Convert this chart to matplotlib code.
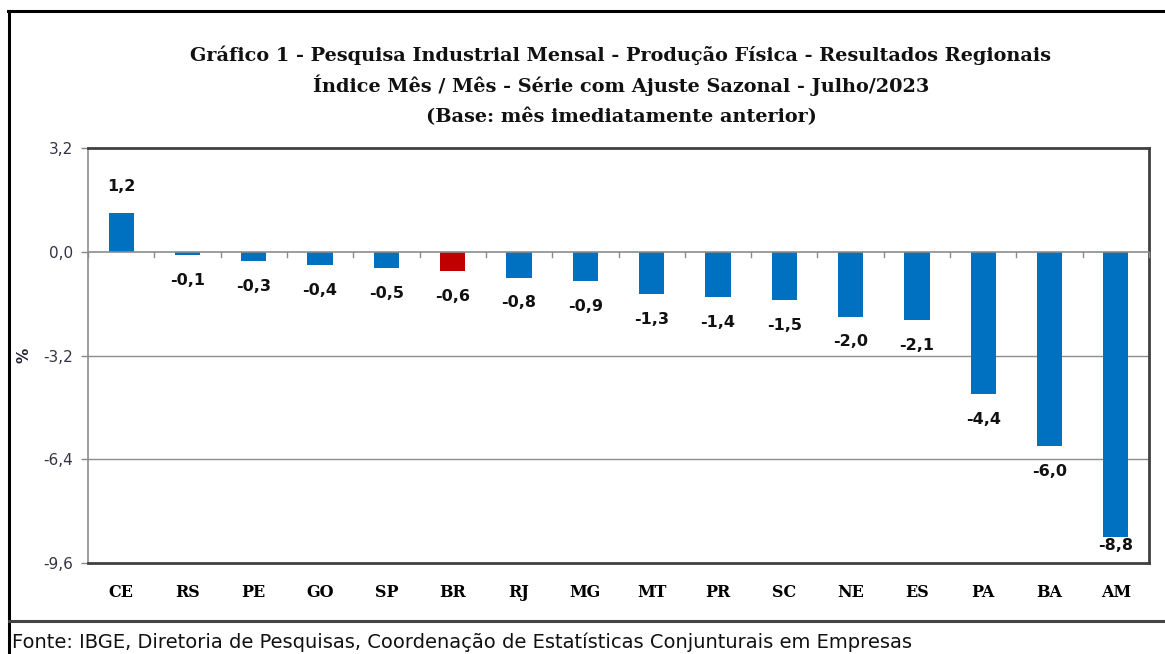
import matplotlib
matplotlib.use("Agg")
import matplotlib.pyplot as plt
from matplotlib.lines import Line2D
import numpy as np

categories = ["CE", "RS", "PE", "GO", "SP", "BR", "RJ", "MG", "MT", "PR", "SC", "NE", "ES", "PA", "BA", "AM"]
values = [1.2, -0.1, -0.3, -0.4, -0.5, -0.6, -0.8, -0.9, -1.3, -1.4, -1.5, -2.0, -2.1, -4.4, -6.0, -8.8]
highlight = "BR"
yticks = [3.2, 0.0, -3.2, -6.4, -9.6]

title_lines = [
    "Gráfico 1 - Pesquisa Industrial Mensal - Produção Física - Resultados Regionais",
    "Índice Mês / Mês - Série com Ajuste Sazonal - Julho/2023",
    "(Base: mês imediatamente anterior)",
]
source = "Fonte: IBGE, Diretoria de Pesquisas, Coordenação de Estatísticas Conjunturais em Empresas"

BLUE = "#0070C0"
RED = "#C00000"

W, H = 1165, 654
fig = plt.figure(figsize=(W / 100, H / 100), dpi=100)
fig.patch.set_facecolor("white")

# outer frame lines
fig.add_artist(Line2D([8 / W, 1.0], [1 - 11 / H, 1 - 11 / H], color="black", lw=2.2, transform=fig.transFigure))
fig.add_artist(Line2D([9 / W, 9 / W], [0, 1 - 11 / H], color="black", lw=2.2, transform=fig.transFigure))
fig.add_artist(Line2D([9 / W, 1.0], [1 - 621 / H, 1 - 621 / H], color="#444444", lw=2.2, transform=fig.transFigure))

ax = fig.add_axes([88 / W, 1 - 563 / H, (1149 - 88) / W, (563 - 148) / H])

x = np.arange(len(categories))
colors = [RED if c == highlight else BLUE for c in categories]
ax.bar(x, values, width=0.38, color=colors, zorder=3)

ax.set_xlim(-0.5, len(categories) - 0.5)
ax.set_ylim(yticks[-1], yticks[0])
ax.set_yticks(yticks)
ax.set_yticklabels([f"{t:.1f}".replace(".", ",") for t in yticks], fontsize=11, color="#333344",
                   family="DejaVu Sans")
ax.tick_params(axis="y", length=5, color="#888888", width=1, pad=6)

# gridlines
for t in yticks[2:-1]:
    ax.axhline(t, color="#8c8c8c", lw=1, zorder=1)

# zero axis with category tick marks
ax.axhline(0, color="#8c8c8c", lw=1.2, zorder=4)
for b in np.arange(len(categories) + 1) - 0.5:
    ax.plot([b, b], [0, -0.17], color="#8c8c8c", lw=1, zorder=4, clip_on=False)

ax.set_xticks(x)
ax.set_xticklabels(categories, fontsize=11.5, fontweight="bold", family="DejaVu Serif", color="black")
ax.tick_params(axis="x", length=0, pad=15)

for side in ["top", "right", "bottom"]:
    ax.spines[side].set_color("#404040")
    ax.spines[side].set_linewidth(2)
ax.spines["left"].set_color("#8c8c8c")
ax.spines["left"].set_linewidth(1.2)

# data labels
ymin = yticks[-1]
for xi, v in zip(x, values):
    lbl = f"{v:.1f}".replace(".", ",")
    if v >= 0:
        ax.annotate(lbl, (xi, v), xytext=(0, 26), textcoords="offset pixels", ha="center", va="center",
                    fontsize=11.5, fontweight="bold", family="DejaVu Sans", color="#111111", zorder=5)
    else:
        yy = max(v - 0.78, ymin + 0.55)
        ax.annotate(lbl, (xi, yy), ha="center", va="center",
                    fontsize=11.5, fontweight="bold", family="DejaVu Sans", color="#111111", zorder=5)

ax.set_ylabel("%", fontsize=11, fontweight="bold", color="#222233", labelpad=8)

# titles
ys = [55, 85, 117]
for line, yy in zip(title_lines, ys):
    fig.text(621 / W, 1 - yy / H, line, ha="center", va="center", fontsize=13.9, fontweight="bold",
             family="DejaVu Serif", color="#111111")

fig.text(12 / W, 1 - 642 / H, source, ha="left", va="center", fontsize=14,
         family=["Liberation Sans Narrow", "DejaVu Sans"], color="#111111")

fig.savefig("out.png", dpi=100)
